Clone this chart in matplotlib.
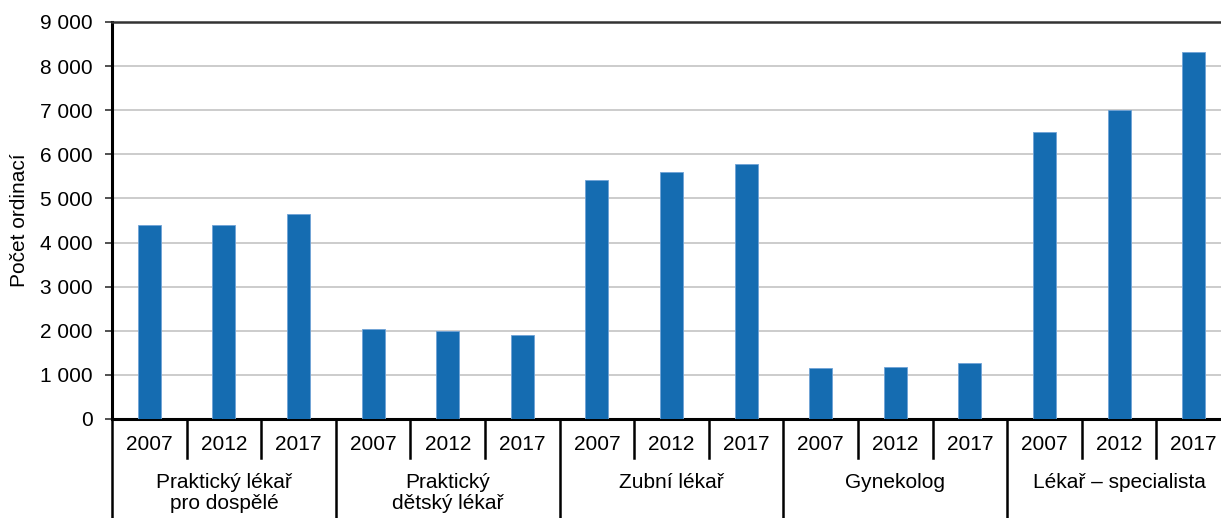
import matplotlib.pyplot as plt
from matplotlib.ticker import FuncFormatter
import matplotlib.transforms as mtransforms

plt.rcParams['font.family'] = ['Liberation Sans', 'DejaVu Sans']

# data
groups = ['Praktický lékař\npro dospělé', 'Praktický\ndětský lékař', 'Zubní lékař',
          'Gynekolog', 'Lékař – specialista']
years = ['2007', '2012', '2017']
praktik_dosp = [4395, 4402, 4645]
praktik_det = [2039, 1993, 1909]
zubni = [5418, 5591, 5782]
gynekolog = [1152, 1182, 1273]
specialista = [6516, 7000, 8311]

values = praktik_dosp + praktik_det + zubni + gynekolog + specialista
n_years = len(years)
x = list(range(len(values)))

W, H = 1221, 518
fig = plt.figure(figsize=(W / 100, H / 100), dpi=100)
left, right, bottom, top = 112, 1231, 419, 22
ax = fig.add_axes([left / W, (H - bottom) / H, (right - left) / W, (bottom - top) / H])

ax.bar(x, values, width=0.31, color='#156cb1', edgecolor='#6fa3d6', linewidth=0.6, zorder=3)

fs = 15
ax.set_xlim(-0.5, len(values) - 0.5)
ax.set_ylim(0, 9000)
ax.set_yticks(range(0, 9001, 1000))
ax.yaxis.set_major_formatter(FuncFormatter(lambda v, p: f'{int(v):,}'.replace(',', ' ')))
ax.tick_params(axis='y', labelsize=fs, length=5, width=1.2, color='#333333', pad=9)
ax.set_xticks([])
ax.grid(axis='y', color='#c8c8c8', linewidth=1.3, zorder=0)
ax.set_ylabel('Počet ordinací', fontsize=fs, labelpad=8)

for s in ['left', 'bottom']:
    ax.spines[s].set_linewidth(2.2)
    ax.spines[s].set_color('black')
ax.spines['top'].set_linewidth(1.8)
ax.spines['top'].set_color('#333333')
ax.spines['right'].set_visible(False)

# category axis with years and groups
ah = bottom - top
trans = mtransforms.blended_transform_factory(ax.transData, ax.transAxes)
y_year_text = -(444 - bottom) / ah
y_year_line = -(458 - bottom) / ah
y_group_line = -(H - bottom + 5) / ah
y_group_text = -(473 - bottom) / ah

for i, v in enumerate(values):
    ax.text(i, y_year_text, years[i % n_years], transform=trans,
            ha='center', va='center', fontsize=fs)
    b = i - 0.5
    if i % n_years == 0:
        ax.plot([b, b], [0, y_group_line], transform=trans, color='black', lw=1.8, clip_on=False)
    else:
        ax.plot([b, b], [0, y_year_line], transform=trans, color='black', lw=1.8, clip_on=False)

for g, name in enumerate(groups):
    cx = g * n_years + (n_years - 1) / 2
    ax.text(cx, y_group_text, name, transform=trans, ha='center', va='top',
            fontsize=fs, linespacing=1.15)

fig.savefig('out.png', dpi=100)
